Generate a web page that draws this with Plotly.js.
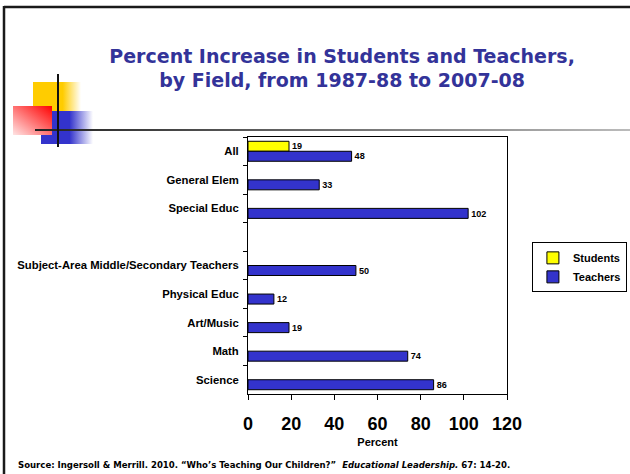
<!DOCTYPE html>
<html>
<head>
<meta charset="utf-8">
<script src="https://cdn.plot.ly/plotly-3.0.1.min.js"></script>
<style>
  html, body { margin: 0; padding: 0; background: #ffffff; }
  #wrap { position: relative; width: 630px; height: 474px; overflow: hidden; }
  #deco { position: absolute; left: 0; top: 0; }
  #chart { position: absolute; left: 0; top: 0; width: 630px; height: 474px; }
</style>
</head>
<body>
<div id="wrap">
<svg id="deco" width="630" height="474" xmlns="http://www.w3.org/2000/svg">
  <defs>
    <linearGradient id="gY" x1="0" y1="0" x2="1" y2="0">
      <stop offset="0" stop-color="#FFCC00"/>
      <stop offset="0.62" stop-color="#FFCC00"/>
      <stop offset="1" stop-color="#FFCC00" stop-opacity="0"/>
    </linearGradient>
    <linearGradient id="gB" x1="0" y1="0" x2="1" y2="0">
      <stop offset="0" stop-color="#3333CC"/>
      <stop offset="0.55" stop-color="#3333CC"/>
      <stop offset="1" stop-color="#3333CC" stop-opacity="0"/>
    </linearGradient>
    <linearGradient id="gR" x1="0" y1="1" x2="1" y2="0">
      <stop offset="0" stop-color="#FFE4E4"/>
      <stop offset="1" stop-color="#FF0000"/>
    </linearGradient>
    <linearGradient id="gL" x1="0" y1="0" x2="1" y2="0">
      <stop offset="0" stop-color="#222222"/>
      <stop offset="1" stop-color="#BBBBBB"/>
    </linearGradient>
  </defs>
  <line x1="4" y1="7" x2="630" y2="7" stroke="#1a1a1a" stroke-width="2.5"/>
  <line x1="4" y1="6" x2="4" y2="474" stroke="#1a1a1a" stroke-width="2.5"/>
  <rect x="33" y="82" width="48" height="29" fill="url(#gY)"/>
  <rect x="41" y="111" width="52" height="33" fill="url(#gB)"/>
  <rect x="13" y="106" width="39" height="29" fill="url(#gR)"/>
  <rect x="35" y="129" width="595" height="2" fill="url(#gL)"/>
  <line x1="58" y1="74" x2="58" y2="147" stroke="#111111" stroke-width="2"/>
</svg>
<div id="chart"></div>
</div>
<script>
// ---- data ----
const categories = ["All", "General Elem", "Special Educ", " ",
  "Subject-Area Middle/Secondary Teachers", "Physical Educ", "Art/Music", "Math", "Science"];
const studentCategories = ["All"];
const studentValues = [19];
const teacherValues = [48, 33, 102, null, 50, 12, 19, 74, 86];
const xTickValues = [0, 20, 40, 60, 80, 100, 120];
const titleText = "Percent Increase in Students and Teachers,<br>by Field, from 1987-88 to 2007-08";
const sourceText = "<b>Source: Ingersoll &amp; Merrill. 2010. \u201cWho\u2019s Teaching Our Children?\u201d  <i>Educational Leadership.</i> 67: 14-20.</b>";

const arial = "Liberation Sans, Arial, sans-serif";
const labelFont = { family: arial, size: 10, color: "#000000", weight: "bold" };

const traces = [
  {
    type: "bar", orientation: "h", name: "Students",
    y: studentCategories, x: studentValues,
    marker: { color: "#FFFF00", line: { color: "#000000", width: 1 } },
    text: studentValues.map(String), textposition: "outside", cliponaxis: false,
    textfont: labelFont, hoverinfo: "x+y"
  },
  {
    type: "bar", orientation: "h", name: "Teachers",
    y: categories, x: teacherValues,
    marker: { color: "#3333CC", line: { color: "#000000", width: 1 } },
    text: teacherValues.map(v => v == null ? "" : String(v)), textposition: "outside", cliponaxis: false,
    textfont: labelFont, hoverinfo: "x+y"
  }
];

const layout = {
  width: 630, height: 474,
  margin: { l: 248, r: 123, t: 137, b: 80, pad: 0, autoexpand: false },
  paper_bgcolor: "rgba(0,0,0,0)",
  plot_bgcolor: "#ffffff",
  barmode: "group", bargap: 0.3, bargroupgap: 0,
  showlegend: true,
  title: {
    text: titleText,
    font: { family: "DejaVu Sans, Verdana, sans-serif", size: 19, color: "#333399", weight: "bold" },
    x: 0.543, xanchor: "center", xref: "container",
    y: 0.868, yanchor: "top", yref: "container"
  },
  xaxis: {
    range: [0, 120], tickvals: xTickValues, ticktext: xTickValues.map(String),
    ticks: "outside", ticklen: 5, tickwidth: 1, tickcolor: "#000000",
    ticklabelstandoff: 8,
    tickfont: { family: arial, size: 18, color: "#000000", weight: "bold" },
    showline: true, mirror: true, linecolor: "#000000", linewidth: 1,
    showgrid: false, zeroline: false,
    title: { text: "Percent", standoff: 5,
      font: { family: arial, size: 11, color: "#000000", weight: "bold" } }
  },
  yaxis: {
    type: "category", categoryorder: "array", categoryarray: categories,
    range: [categories.length - 0.5, -0.5],
    tickson: "boundaries", ticks: "outside", ticklen: 4, tickwidth: 1, tickcolor: "#000000",
    tickfont: { family: arial, size: 11.3, color: "#000000", weight: "bold" },
    ticklabelstandoff: 6,
    showline: true, mirror: true, linecolor: "#000000", linewidth: 1,
    showgrid: false, zeroline: false
  },
  legend: {
    x: 1.463, xanchor: "right", y: 0.59, yanchor: "top",
    bgcolor: "#ffffff", bordercolor: "#000000", borderwidth: 1,
    font: { family: arial, size: 11, color: "#000000", weight: "bold" },
    itemwidth: 30, tracegroupgap: 0, traceorder: "normal"
  },
  annotations: [
    {
      text: sourceText, xref: "paper", yref: "paper",
      x: -0.896, xanchor: "left", y: -0.276, yanchor: "middle", showarrow: false,
      font: { family: "DejaVu Sans Condensed, DejaVu Sans, sans-serif", size: 9.5, color: "#000000" }
    }
  ]
};

Plotly.newPlot("chart", traces, layout, { displayModeBar: false, staticPlot: true });
</script>
</body>
</html>
